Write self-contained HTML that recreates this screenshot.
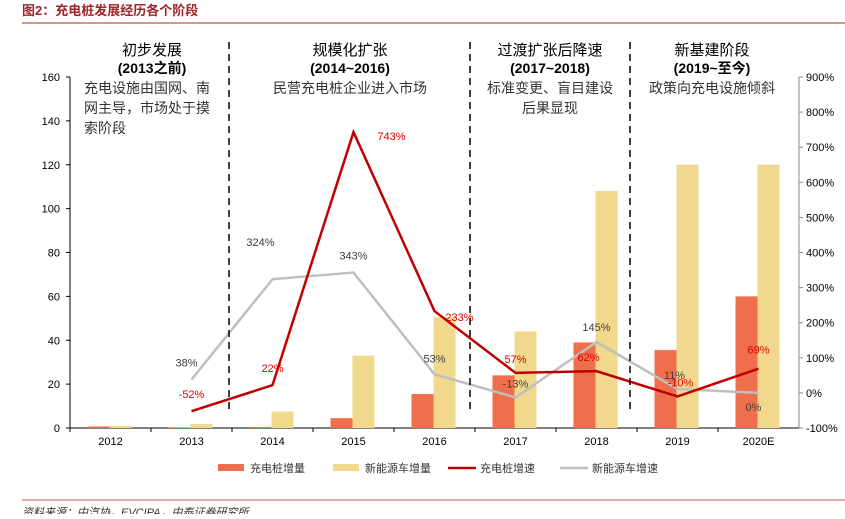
<!DOCTYPE html>
<html><head><meta charset="utf-8"><style>
body{margin:0;background:#fff;width:845px;height:514px;overflow:hidden;font-family:"Liberation Sans","Noto Sans CJK SC",sans-serif}
svg text{font-family:"Liberation Sans","Noto Sans CJK SC",sans-serif}
</style></head><body>
<svg width="845" height="514">
<text x="22" y="15" font-size="13" font-weight="bold" fill="#a0252a">图2：充电桩发展经历各个阶段</text>
<line x1="22" y1="23" x2="845" y2="23" stroke="#d9958a" stroke-width="2"/>
<g id="g"></g>
<line x1="22" y1="500" x2="845" y2="500" stroke="#d9958a" stroke-width="1.5"/>
<text x="22" y="516" font-size="11" font-style="italic" fill="#333">资料来源：中汽协，EVCIPA，中泰证券研究所</text>
</svg>
<script>
const categories=["2012","2013","2014","2015","2016","2017","2018","2019","2020E"];
const pileAdd=[0.7,0.3,0.5,4.5,15.5,24,39,35.5,60];
const nevAdd=[1,1.8,7.5,33,50.5,44,108,120,120];
const pileGrowth=[null,-52,22,743,233,57,62,-10,69];
const nevGrowth=[null,38,324,343,53,-13,145,11,0];
const leftTicks=[0,20,40,60,80,100,120,140,160];
const rightTicks=[-100,0,100,200,300,400,500,600,700,800,900];
const x0=70,step=81,yB=428,yT=77;
const ns="http://www.w3.org/2000/svg",g=document.getElementById('g');
const yL=v=>yB-(v/160)*(yB-yT);
const yR=v=>yB-((v+100)/1000)*(yB-yT);
const xc=i=>x0+step*(i+0.5);
function el(t,a,txt){const e=document.createElementNS(ns,t);for(const k in a)e.setAttribute(k,a[k]);if(txt!=null)e.textContent=txt;g.appendChild(e);return e;}
// axes
let e=el('line',{x1:x0,y1:yT,x2:x0,y2:yB,stroke:'#000'});


e=el('line',{x1:x0,y1:yB,x2:x0+step*9,y2:yB,stroke:'#000'});


e=el('line',{x1:x0+step*9,y1:yT,x2:x0+step*9,y2:yB,stroke:'#888'});


leftTicks.forEach(v=>{el('line',{x1:x0-4,x2:x0,y1:yL(v),y2:yL(v),stroke:'#000'});
e=el('text',{x:x0-10,y:yL(v)+4,'font-size':11,'text-anchor':'end',fill:'#000'},v);

});
rightTicks.forEach(v=>{el('line',{x1:x0+step*9,x2:x0+step*9+4,y1:yR(v),y2:yR(v),stroke:'#888'});
e=el('text',{x:x0+step*9+7,y:yR(v)+4,'font-size':11,fill:'#000'},v+'%');

});
categories.forEach((c,i)=>{el('line',{x1:x0+step*i,x2:x0+step*i,y1:yB,y2:yB+4,stroke:'#000'});
e=el('text',{x:xc(i),y:yB+17,'font-size':11,'text-anchor':'middle'},c);

});
// bars
categories.forEach((c,i)=>{
 e=el('rect',{x:xc(i)-23,y:yL(pileAdd[i]),width:22,height:yB-yL(pileAdd[i]),fill:'#ef6f4c'});
 
 
 e=el('rect',{x:xc(i)-1,y:yL(nevAdd[i]),width:22,height:yB-yL(nevAdd[i]),fill:'#f2d88c'});
 
 
});
function line(arr,col,w,name,lblCol,offs){
 const pts=[];arr.forEach((v,i)=>{if(v!=null)pts.push(xc(i)+','+yR(v));});
 e=el('polyline',{points:pts.join(' '),fill:'none',stroke:col,'stroke-width':w});
 
 
 arr.forEach((v,i)=>{if(v==null)return;const o=offs[i];
  e=el('text',{x:xc(i)+o[0],y:yR(v)+o[1],'font-size':11,'text-anchor':'middle',fill:lblCol},v+'%');
  
  });
}
line(nevGrowth,'#bfbfbf',2.5,'nev-growth-line','#404040',[0,[-5,-13],[-12,-33],[0,-13],[0,-12],[0,-10],[0,-11],[-3,-10],[-5,18]]);
line(pileGrowth,'#c00000',2.5,'pile-growth-line','#e00000',[0,[0,-13],[0,-13],[38,8],[25,10],[0,-10],[-8,-10],[3,-10],[0,-15]]);
// dashed separators
[229,470,630].forEach(x=>{e=el('line',{x1:x,x2:x,y1:42,y2:410,stroke:'#000','stroke-width':1.5,'stroke-dasharray':'7,5'});

});
const phases=[[152,"初步发展","(2013之前)",["充电设施由国网、南","网主导，市场处于摸","索阶段"],160,"start"],
[350,"规模化扩张","(2014~2016)",["民营充电桩企业进入市场"],0,"middle"],
[550,"过渡扩张后降速","(2017~2018)",["标准变更、盲目建设","后果显现"],0,"middle"],
[712,"新基建阶段","(2019~至今)",["政策向充电设施倾斜"],0,"middle"]];
phases.forEach(p=>{
 e=el('text',{x:p[0],y:55,'font-size':15,'text-anchor':'middle',fill:'#000'},p[1]);
 
 
 e=el('text',{x:p[0],y:73,'font-size':14,'font-weight':'bold','text-anchor':'middle'},p[2]);
 
 
 p[3].forEach((t,k)=>{e=el('text',{x:p[5]=='start'?84:p[0],y:93+k*20,'font-size':14,'text-anchor':p[5],fill:'#333'},t);
 
 });
});
// legend
const leg=[[218,'#ef6f4c','rect','充电桩增量'],[333,'#f2d88c','rect','新能源车增量'],[448,'#c00000','line','充电桩增速'],[560,'#bfbfbf','line','新能源车增速']];
leg.forEach(l=>{
 if(l[2]=='rect')el('rect',{x:l[0],y:464,width:26,height:7,fill:l[1]});
 else el('line',{x1:l[0],x2:l[0]+28,y1:468,y2:468,stroke:l[1],'stroke-width':2.5});
 e=el('text',{x:l[0]+32,y:472,'font-size':11,fill:'#333'},l[3]);
 
 
});
</script>
</body></html>
